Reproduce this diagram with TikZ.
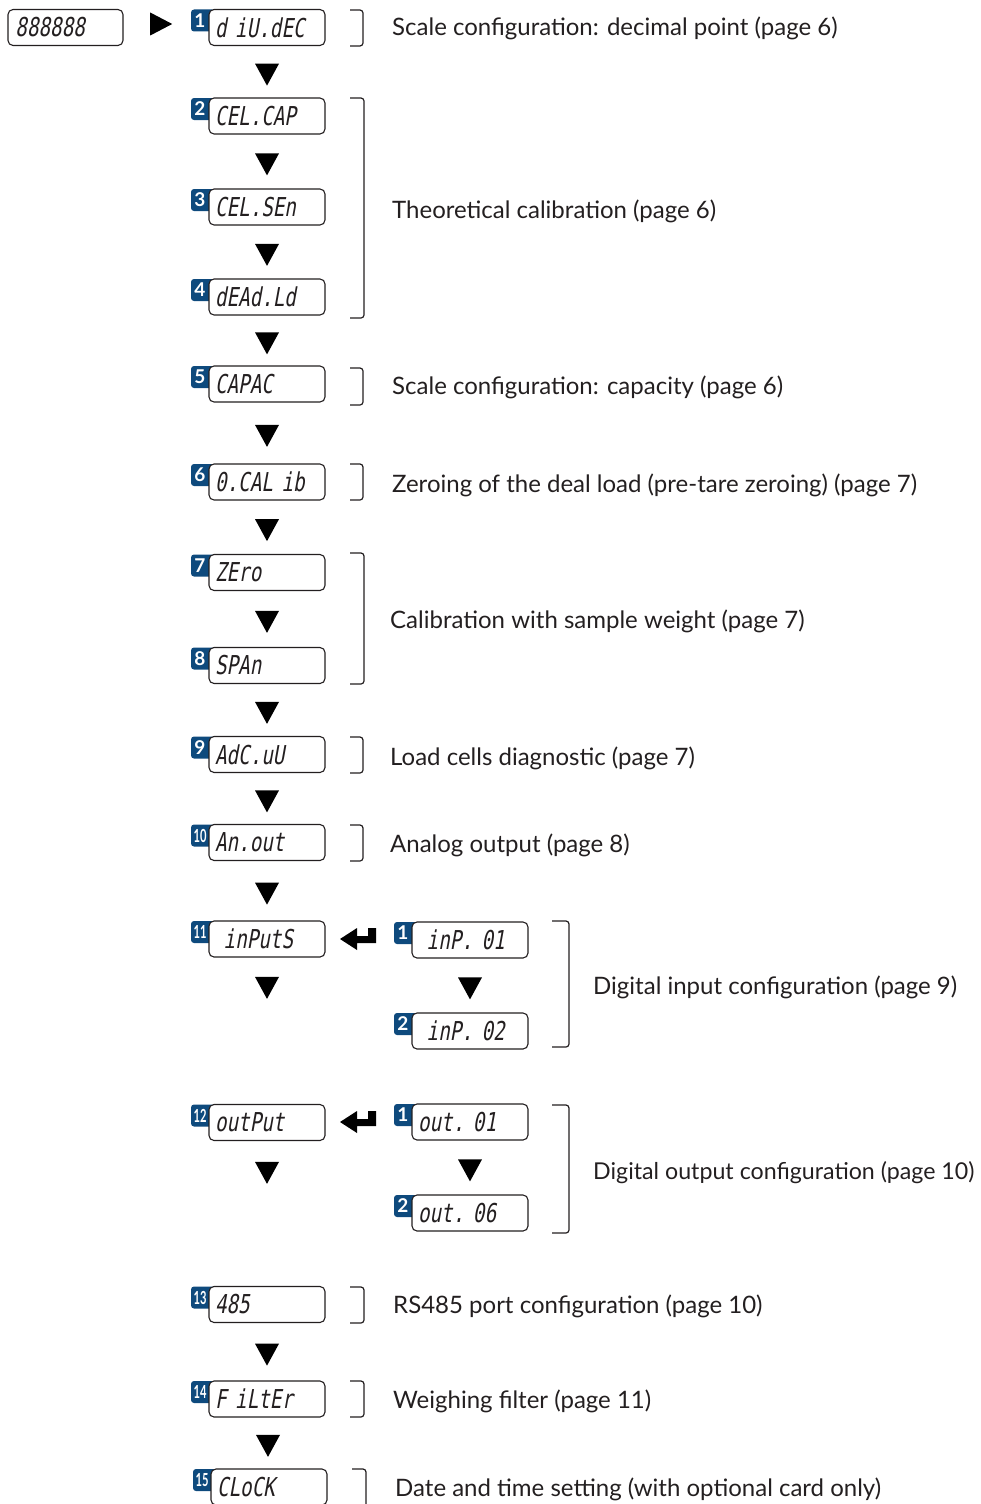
\documentclass[tikz,border=0pt]{standalone}
\usepackage{fontspec}
\setmainfont{Lato}
\newfontfamily\dispfont[FakeSlant=0.18,FakeStretch=0.74]{DejaVu Sans Mono}
\usetikzlibrary{shapes.geometric,calc}
\definecolor{badgeblue}{HTML}{0E4A7D}
\definecolor{ink}{HTML}{231F20}
\tikzset{
  disp/.style={draw=ink, line width=1.1pt, rounded corners=5pt, fill=white,
    minimum width=116pt, minimum height=36pt, inner sep=0pt,
    text width=104pt, align=left, font=\dispfont\fontsize{26}{26}\selectfont, text=ink},
  badge/.style={fill=badgeblue, rounded corners=3pt, minimum width=24pt,
    minimum height=22pt, inner sep=0pt},
  badgenum/.style={text=white, font=\bfseries\fontsize{19}{19}\selectfont, inner sep=0pt},
  badgenumsm/.style={text=white, font=\bfseries\fontsize{18}{18}\selectfont, inner sep=0pt},
  tri/.style={isosceles triangle, isosceles triangle stretches, shape border rotate=-90,
    fill=black, draw=none, minimum width=24pt, minimum height=22pt, inner sep=0pt},
  trir/.style={isosceles triangle, isosceles triangle stretches, shape border rotate=0,
    fill=black, draw=none, minimum width=23pt, minimum height=22pt, inner sep=0pt},
  brk/.style={draw=ink, line width=1.2pt, rounded corners=3pt},
  lbl/.style={anchor=base west, text=ink, font=\fontsize{24}{24}\selectfont, inner sep=0pt},
}
\newcommand\dbox[6]{% name, num, cx, cy, text, numstyle
  \node[badge] (#1b) at (#3-64,#4-7) {};
  \node[#6] (#1n) at (#3-67,#4-7) {#2};
  \node[disp] (#1) at (#3,#4) {#5};
}
\newcommand\sq[1]{\scalebox{0.62}[1]{#1}}
\begin{document}
\begin{tikzpicture}[x=1pt,y=-1pt]
\useasboundingbox (0,0) rectangle (981,1504);
% start display
\node[disp, minimum width=115pt, text width=100pt] (d0) at (65.5,27.5) {888888};
% main column
\dbox{n1}{1}{267}{27.5}{d~iU.dEC}{badgenum}
\dbox{n2}{2}{267}{116}{CEL.CAP}{badgenum}
\dbox{n3}{3}{267}{207}{CEL.SEn}{badgenum}
\dbox{n4}{4}{267}{297}{dEAd.Ld}{badgenum}
\dbox{n5}{5}{267}{384}{CAPAC}{badgenum}
\dbox{n6}{6}{267}{482}{0.CAL~ib}{badgenum}
\dbox{n7}{7}{267}{572.5}{ZEro}{badgenum}
\dbox{n8}{8}{267}{665.5}{SPAn}{badgenum}
\dbox{n9}{9}{267}{754.5}{AdC.uU}{badgenum}
\dbox{n10}{\sq{10}}{267}{842.5}{An.out}{badgenumsm}
\dbox{n11}{\sq{11}}{267}{939}{~inPutS}{badgenumsm}
\dbox{n12}{\sq{12}}{267}{1122.5}{outPut}{badgenumsm}
\dbox{n13}{\sq{13}}{267}{1304.5}{485}{badgenumsm}
\dbox{n14}{\sq{14}}{267}{1399}{F~iLtEr}{badgenumsm}
\dbox{n15}{\sq{15}}{269}{1487}{CLoCK}{badgenumsm}
% sub columns
\dbox{i1}{1}{470}{940}{~inP.~01}{badgenum}
\dbox{i2}{2}{470}{1031}{~inP.~02}{badgenum}
\dbox{o1}{1}{470}{1122}{out.~01}{badgenum}
\dbox{o2}{2}{470}{1213}{out.~06}{badgenum}
% flow triangles
\path (d0.east) -- node[trir] (t0) {} (n1b.west);
\path (n1.south) -- node[tri, yshift=1pt] (t1) {} (n2.north);
\path (n2.south) -- node[tri, yshift=1pt] (t2) {} (n3.north);
\path (n3.south) -- node[tri, yshift=1pt] (t3) {} (n4.north);
\path (n4.south) -- node[tri, yshift=1pt] (t4) {} (n5.north);
\path (n5.south) -- node[tri, yshift=1pt] (t5) {} (n6.north);
\path (n6.south) -- node[tri, yshift=1pt] (t6) {} (n7.north);
\path (n7.south) -- node[tri, yshift=1pt] (t7) {} (n8.north);
\path (n8.south) -- node[tri, yshift=1pt] (t8) {} (n9.north);
\path (n9.south) -- node[tri, yshift=1pt] (t9) {} (n10.north);
\path (n10.south) -- node[tri, yshift=1pt] (t10) {} (n11.north);
\node[tri] (t11) at (267,984) {};
\node[tri] (t12) at (267,1169) {};
\path (n13.south) -- node[tri, yshift=1pt] (t13) {} (n14.north);
\path (n14.south) -- node[tri, yshift=1pt] (t14) {} (n15.north);
\path (i1.south) -- node[tri, yshift=1pt] (ti) {} (i2.north);
\path (o1.south) -- node[tri, yshift=1pt] (to) {} (o2.north);
% enter arrows
\foreach \yy/\nm in {939/e11, 1122/e12}{
  \coordinate (\nm) at (358,\yy);
  \fill[black] ($(\nm)+(-18,0)$) -- ($(\nm)+(-1,-11)$) -- ($(\nm)+(-1,-3)$) -- ($(\nm)+(10,-3)$)
    -- ($(\nm)+(10,-11)$) -- ($(\nm)+(18,-11)$) -- ($(\nm)+(18,4)$) -- ($(\nm)+(-1,4)$)
    -- ($(\nm)+(-1,11)$) -- cycle;
}
% brackets
\draw[brk] (350,10) -- (363,10) -- (363,46) -- (350,46);
\draw[brk] (350,98) -- (364,98) -- (364,318) -- (350,318);
\draw[brk] (350,368) -- (363,368) -- (363,405) -- (350,405);
\draw[brk] (350,464) -- (363,464) -- (363,500) -- (350,500);
\draw[brk] (350,553) -- (364,553) -- (364,684) -- (350,684);
\draw[brk] (350,737) -- (363,737) -- (363,773) -- (350,773);
\draw[brk] (350,825) -- (363,825) -- (363,861) -- (350,861);
\draw[brk] (552,921) -- (569,921) -- (569,1047) -- (552,1047);
\draw[brk] (552,1105) -- (569,1105) -- (569,1233) -- (552,1233);
\draw[brk] (350,1287) -- (364,1287) -- (364,1323) -- (350,1323);
\draw[brk] (350,1381) -- (364,1381) -- (364,1417) -- (350,1417);
\draw[brk] (352,1469) -- (366,1469) -- (366,1510);
% labels
\node[lbl] (l1) at (392,36) {Scale configuration: decimal point (page 6)};
\node[lbl] (l2) at (392,218) {Theoretical calibration (page 6)};
\node[lbl] (l5) at (392,394) {Scale configuration: capacity (page 6)};
\node[lbl] (l6) at (392,492) {Zeroing of the deal load (pre-tare zeroing) (page 7)};
\node[lbl] (l7) at (390,628) {Calibration with sample weight (page 7)};
\node[lbl] (l9) at (390,765) {Load cells diagnostic (page 7)};
\node[lbl] (l10) at (390,852) {Analog output (page 8)};
\node[lbl] (l11) at (593,994) {Digital input configuration (page 9)};
\node[lbl, font=\fontsize{23.2}{24}\selectfont] (l12) at (593,1179) {Digital output configuration (page 10)};
\node[lbl] (l13) at (393,1313) {RS485 port configuration (page 10)};
\node[lbl] (l14) at (393,1408) {Weighing filter (page 11)};
\node[lbl] (l15) at (395,1496) {Date and time setting (with optional card only)};
\end{tikzpicture}
\end{document}
